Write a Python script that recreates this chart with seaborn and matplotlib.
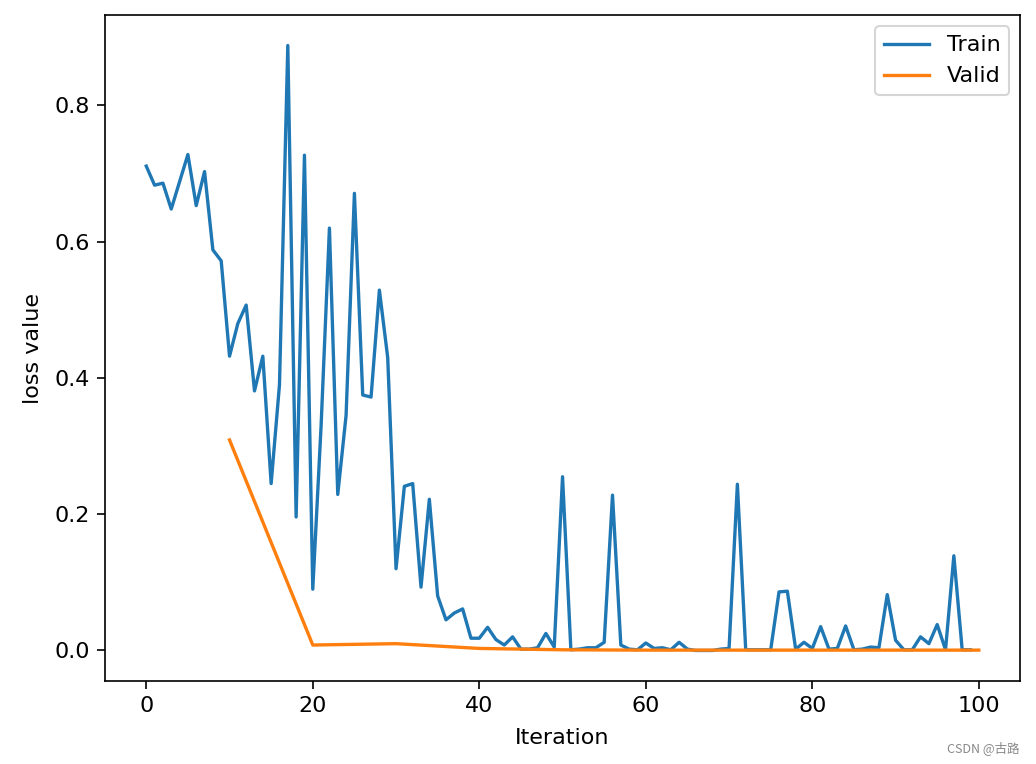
import numpy as np
import pandas as pd
import matplotlib
matplotlib.use("Agg")
import matplotlib.pyplot as plt
import seaborn as sns

train_loss = [0.711, 0.683, 0.686, 0.648, 0.688, 0.728, 0.653, 0.703, 0.588, 0.572,
              0.432, 0.480, 0.507, 0.381, 0.432, 0.245, 0.390, 0.888, 0.196, 0.727,
              0.090, 0.330, 0.620, 0.229, 0.345, 0.671, 0.375, 0.372, 0.529, 0.430,
              0.120, 0.241, 0.245, 0.093, 0.222, 0.080, 0.045, 0.055, 0.061, 0.018,
              0.018, 0.034, 0.016, 0.008, 0.020, 0.002, 0.002, 0.004, 0.025, 0.005,
              0.255, 0.001, 0.002, 0.004, 0.004, 0.012, 0.228, 0.008, 0.002, 0.001,
              0.011, 0.003, 0.004, 0.001, 0.012, 0.002, 0.000, 0.000, 0.000, 0.002,
              0.003, 0.244, 0.001, 0.001, 0.001, 0.001, 0.086, 0.087, 0.002, 0.012,
              0.003, 0.035, 0.002, 0.003, 0.036, 0.001, 0.002, 0.005, 0.004, 0.082,
              0.015, 0.001, 0.001, 0.020, 0.010, 0.038, 0.001, 0.139, 0.001, 0.001]
train_iter = list(range(len(train_loss)))

valid_iter = [10, 20, 30, 40, 50, 60, 70, 80, 90, 100]
valid_loss = [0.309, 0.008, 0.010, 0.003, 0.001, 0.0005, 0.0005, 0.0005, 0.0005, 0.0005]

train_df = pd.DataFrame({"Iteration": train_iter, "loss": train_loss})
valid_df = pd.DataFrame({"Iteration": valid_iter, "loss": valid_loss})

plt.rcParams["font.size"] = 10.7
plt.rcParams["xtick.major.size"] = 3.7
plt.rcParams["ytick.major.size"] = 3.7

fig = plt.figure(figsize=(1036 / 150, 764 / 150), dpi=150)
ax = fig.add_axes([0.101, 0.109, 0.884, 0.871])

sns.lineplot(data=train_df, x="Iteration", y="loss", ax=ax, color="#1f77b4",
             label="Train", linewidth=1.6)
sns.lineplot(data=valid_df, x="Iteration", y="loss", ax=ax, color="#ff7f0e",
             label="Valid", linewidth=1.6)

ax.set_xlabel("Iteration", labelpad=6)
ax.set_ylabel("loss value", labelpad=5.5)
ax.legend(loc="upper right")

fig.text(0.984, 0.012, "CSDN @古路", ha="right", va="bottom", fontsize=6,
         color="#888888", family=["Noto Sans CJK SC", "DejaVu Sans"])

fig.savefig("out.png", dpi=150)
